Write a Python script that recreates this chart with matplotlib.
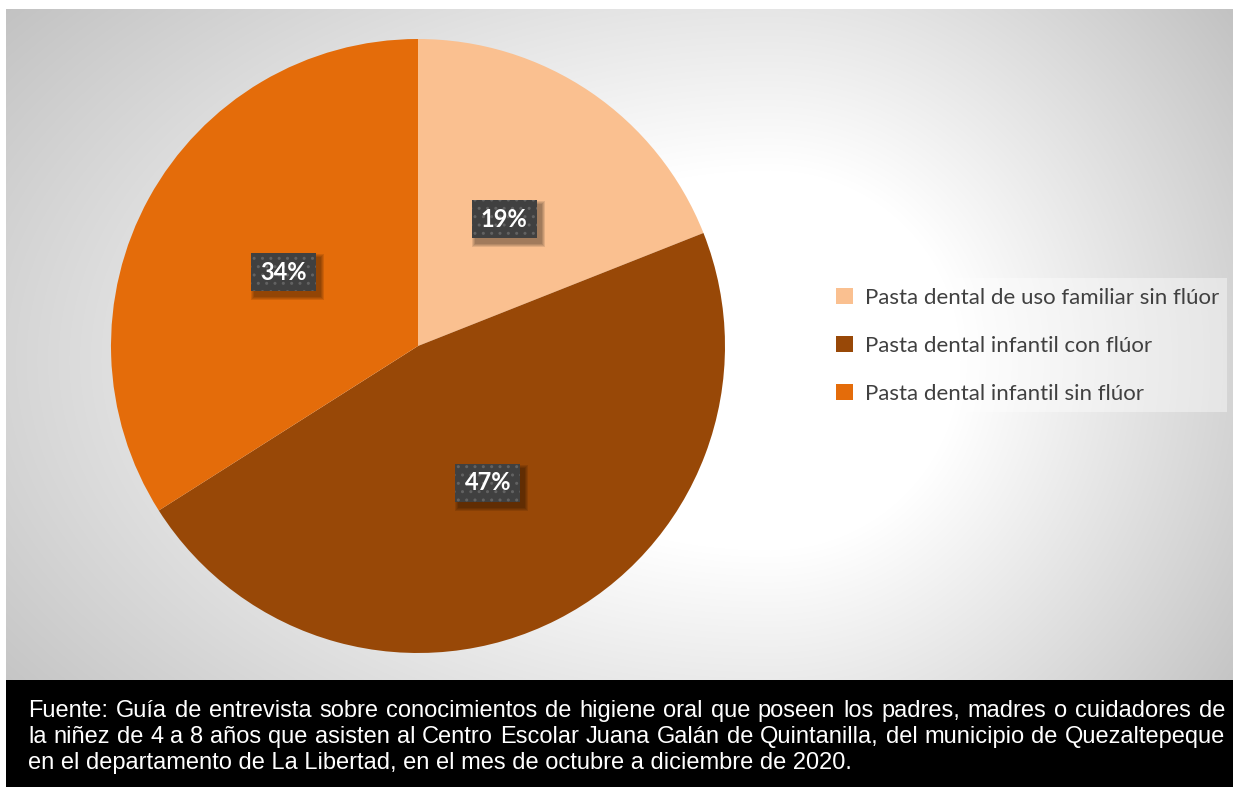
import numpy as np
import matplotlib.pyplot as plt
from matplotlib.patches import Rectangle

categorias = ["Pasta dental de uso familiar sin flúor",
              "Pasta dental infantil con flúor",
              "Pasta dental infantil sin flúor"]
porcentajes = [19, 47, 34]
colores = ["#FAC090", "#984807", "#E46C0A"]

fuente = [
    "Fuente: Guía de entrevista sobre conocimientos de higiene oral que poseen los padres, madres o cuidadores de",
    "la niñez de 4 a 8 años que asisten al Centro Escolar Juana Galán de Quintanilla, del municipio de Quezaltepeque",
    "en el departamento de La Libertad, en el mes de octubre a diciembre de 2020.",
]

W, H = 1233, 787
fig = plt.figure(figsize=(W / 100, H / 100), dpi=100)
fig.patch.set_facecolor("white")
rend = fig.canvas.get_renderer()


def fx(px):
    return px / W


def fy(py):
    return 1 - py / H


def fit_size(text, width, **kw):
    t = fig.text(0, 0, text, fontsize=14, **kw)
    w = t.get_window_extent(rend).width
    t.remove()
    return 14 * width / w


# fondo con degradado radial
bg = fig.add_axes([fx(6), fy(680), fx(W - 6), (680 - 9) / H])
yy, xx = np.mgrid[9:680, 6:W].astype(float)
dx = xx - 770
dx = np.where(dx < 0, dx * 0.6, dx)
d = np.hypot(dx, yy - 360)
t = np.clip((d - 190) / 410, 0, 1)
g = (255 - 64 * t) / 255
bg.imshow(np.dstack([g, g, g]), aspect="auto", interpolation="bilinear")
bg.axis("off")

# pastel
cx, cy, r = 418, 346, 307
ax = fig.add_axes([fx(cx - r), fy(cy + r), 2 * r / W, 2 * r / H])
ax.patch.set_alpha(0)
wedges, texts, autotexts = ax.pie(
    porcentajes, colors=colores, startangle=90, counterclock=False,
    autopct=lambda p: f"{p:.0f}%", pctdistance=0.5,
    wedgeprops=dict(linewidth=0))
ax.set_xlim(-1, 1)
ax.set_ylim(-1, 1)
ax.axis("off")

bw, bh = 65 / r, 38 / r
px = 1 / r
for at in autotexts:
    x, y = at.get_position()
    # sombra difusa abajo a la derecha
    for k in range(4):
        e = (k + 1) * px
        ax.add_patch(Rectangle((x - bw / 2 + 4 * px - e, y - bh / 2 - 5 * px - e),
                               bw + 2 * e, bh + 2 * e, facecolor="black",
                               alpha=0.1, linewidth=0, zorder=2.5))
    ax.add_patch(Rectangle((x - bw / 2, y - bh / 2), bw, bh, facecolor="#404040",
                           edgecolor="#626262", linewidth=0, hatch="..", zorder=3))
    at.set(color="white", fontsize=17, fontweight="bold", family="Lato", zorder=4)

# leyenda
fig.add_artist(Rectangle((fx(830), fy(412)), fx(1227 - 830), (412 - 278) / H,
                         transform=fig.transFigure, facecolor="white",
                         alpha=0.4, linewidth=0))
lsize = fit_size(categorias[0], 355, family="Lato")
leg = fig.legend(wedges, categorias, loc="upper left",
                 bbox_to_anchor=(fx(836), fy(288)), frameon=False,
                 prop=dict(family="Lato", size=lsize), labelcolor="#404040",
                 handlelength=0.75, handleheight=0.75, handletextpad=0.55,
                 labelspacing=1.25, borderpad=0, borderaxespad=0)

# nota de fuente
fig.add_artist(Rectangle((fx(6), 0), fx(W - 6), (H - 680) / H,
                         transform=fig.transFigure, facecolor="black", linewidth=0))
fkw = dict(family="Liberation Sans", color="white")
fsize = fit_size(fuente[2], 830, **fkw)
x0, x1 = 28, 1225
bases = [717, 743, 769]
for i, linea in enumerate(fuente):
    if i == len(fuente) - 1:
        fig.text(fx(x0), fy(bases[i]), linea, fontsize=fsize, va="baseline", **fkw)
        continue
    palabras = linea.split(" ")
    objs = [fig.text(0, fy(bases[i]), p, fontsize=fsize, va="baseline", **fkw)
            for p in palabras]
    anchos = [o.get_window_extent(rend).width for o in objs]
    hueco = (x1 - x0 - sum(anchos)) / (len(palabras) - 1)
    x = x0
    for o, a in zip(objs, anchos):
        o.set_x(fx(x))
        x += a + hueco

fig.savefig("out.png", dpi=100)
